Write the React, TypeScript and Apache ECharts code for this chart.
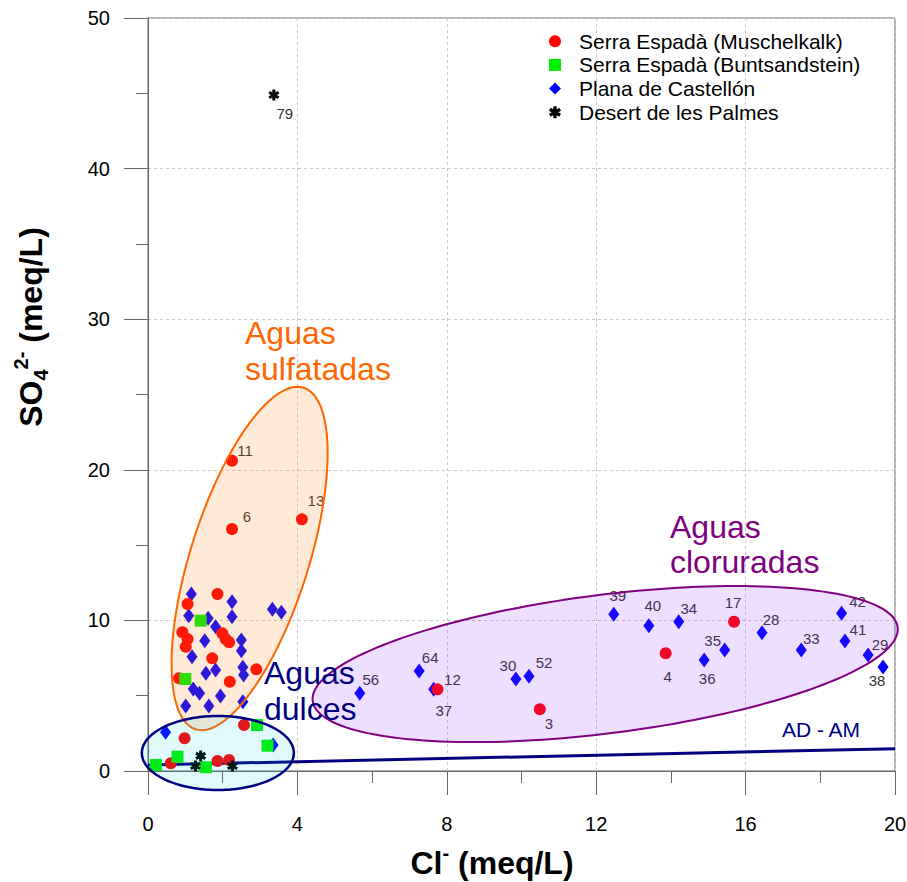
import React, { useEffect, useRef } from 'react';
import * as echarts from 'echarts';

const FONT = '"Liberation Sans", Arial, Helvetica, sans-serif';

// ---- axis ranges ----
const xRange = [0, 20];
const yRange = [0, 50];
const xInterval = 4;
const yInterval = 10;

// ---- data: [Cl (meq/L), SO4 (meq/L), sample label] ----
const muschelkalkPoints: [number, number, string][] = [
  [2.25, 20.6, '11'], [2.25, 16.07, '6'], [4.12, 16.71, '13'], [15.69, 9.91, '17'],
  [13.86, 7.82, '4'], [7.75, 5.42, '12'], [10.49, 4.1, '3'],
  [1.86, 11.75, ''], [1.06, 11.09, ''], [0.92, 9.21, ''], [1.06, 8.76, ''], [1.01, 8.25, ''],
  [1.99, 9.14, ''], [2.08, 8.76, ''], [2.17, 8.55, ''], [1.72, 7.48, ''], [2.9, 6.75, ''],
  [0.83, 6.16, ''], [2.19, 5.93, ''], [2.57, 3.05, ''], [0.98, 2.17, ''], [0.61, 0.51, ''],
  [1.86, 0.66, ''], [2.17, 0.73, ''],
];

const buntsandsteinPoints: [number, number, string][] = [
  [1.41, 9.98, ''], [1.0, 6.11, ''], [2.92, 3.05, ''], [3.2, 1.68, ''], [0.79, 0.95, ''],
  [0.21, 0.4, ''], [1.55, 0.25, ''],
];

const castellonPoints: [number, number, string][] = [
  [12.47, 10.41, '39'], [13.41, 9.65, '40'], [14.21, 9.91, '34'], [15.44, 8.03, '35'],
  [14.89, 7.37, '36'], [16.44, 9.18, '28'], [17.49, 8.03, '33'], [18.57, 10.47, '42'],
  [18.66, 8.63, '41'], [19.28, 7.7, '29'], [19.68, 6.91, '38'], [5.67, 5.16, '56'],
  [7.26, 6.64, '64'], [7.65, 5.42, '37'], [9.85, 6.11, '30'], [10.2, 6.29, '52'],
  [1.16, 11.75, ''], [2.25, 11.24, ''], [1.09, 10.31, ''], [1.61, 10.14, ''], [2.25, 10.25, ''],
  [3.33, 10.74, ''], [3.57, 10.54, ''], [1.81, 9.58, ''], [1.52, 8.65, ''], [2.5, 8.7, ''],
  [2.5, 7.99, ''], [1.18, 7.59, ''], [1.81, 6.71, ''], [1.55, 6.49, ''], [2.54, 6.89, ''],
  [2.56, 6.37, ''], [1.21, 5.44, ''], [1.38, 5.16, ''], [1.94, 4.98, ''], [1.01, 4.32, ''],
  [1.63, 4.32, ''], [2.54, 4.6, ''], [0.47, 2.57, ''], [3.35, 1.73, ''],
];

const palmesPoints: [number, number, string][] = [
  [3.37, 44.89, '79'], [1.41, 1.0, ''], [1.27, 0.33, ''], [2.26, 0.33, ''],
];

// a sample label printed without a visible marker
const labelOnlyPoints: [number, number, string][] = [[11.79, 6.86, '31']];

// AD - AM reference line
const adAmLine: [number, number][] = [[0, 0.4], [20, 1.48]];

// groups: centre and two conjugate semi-axes (data units)
const groupNames = ['Aguas\nsulfatadas', 'Aguas\ncloruradas', 'Aguas\ndulces'];
const groupCenters: [number, number][] = [[2.72, 14.11], [12.24, 7.1], [1.87, 1.195]];
const groupAxisU: [number, number][] = [[1.446, 11.335], [7.831, 2.45], [2.035, 0]];
const groupAxisV: [number, number][] = [[1.508, -1.182], [0.232, -4.565], [0, -2.457]];

const seriesNames = [
  'Serra Espadà (Muschelkalk)',
  'Serra Espadà (Buntsandstein)',
  'Plana de Castellón',
  'Desert de les Palmes',
];

// ---- styles ----
const labelOffsets: Record<string, [number, number]> = {
  '11': [13, -10], '6': [15, -12], '13': [14, -19], '17': [-1, -19], '4': [2, 23],
  '12': [15, -10], '3': [9, 14], '39': [4, -19], '40': [4, -20], '34': [10, -13],
  '35': [-12, -10], '36': [3, 18], '28': [9, -13], '33': [10, -12], '42': [16, -12],
  '41': [13, -12], '29': [12, -11], '38': [-6, 14], '56': [11, -14], '64': [11, -14],
  '37': [10, 21], '30': [-8, -13], '52': [15, -14], '79': [11, 19], '31': [0, 0],
};

const groupStyles = [
  { fill: 'rgba(255,140,40,0.18)', stroke: '#ff6600', lineWidth: 2 },
  { fill: 'rgba(150,50,255,0.16)', stroke: '#800080', lineWidth: 2 },
  { fill: 'rgba(0,215,230,0.12)', stroke: '#000080', lineWidth: 2.5 },
];
const groupTextStyles = [
  { x: 245, y: 351, color: '#ff6600', lineHeight: 36 },
  { x: 670, y: 544.5, color: '#800080', lineHeight: 35 },
  { x: 264, y: 691, color: '#000080', lineHeight: 36 },
];

const starPath = (() => {
  const L = 10;
  const w = 2.8;
  let d = '';
  for (const deg of [90, 30, -30]) {
    const a = (deg * Math.PI) / 180;
    const dx = Math.cos(a);
    const dy = Math.sin(a);
    const nx = -dy;
    const ny = dx;
    const pts = [
      [L * dx + w * nx, L * dy + w * ny],
      [L * dx - w * nx, L * dy - w * ny],
      [-L * dx - w * nx, -L * dy - w * ny],
      [-L * dx + w * nx, -L * dy + w * ny],
    ];
    d += 'M' + pts.map((p) => p[0].toFixed(2) + ' ' + p[1].toFixed(2)).join(' L') + ' Z ';
  }
  return 'path://' + d;
})();

function mkData(pts: [number, number, string][]) {
  return pts.map(([x, y, lab]) => ({
    value: [x, y],
    name: lab,
    label: lab
      ? {
          show: true,
          formatter: lab,
          position: 'inside',
          offset: labelOffsets[lab] || [10, -12],
          color: '#333',
          fontSize: 15,
          fontFamily: FONT,
        }
      : { show: false },
  }));
}

export default function App() {
  const ref = useRef<HTMLDivElement>(null);

  useEffect(() => {
    if (!ref.current) return;
    const chart = echarts.init(ref.current, null, { renderer: 'svg' });

    const axisColor = '#666';
    const option: any = {
      animation: false,
      backgroundColor: '#ffffff',
      textStyle: { fontFamily: FONT },
      grid: {
        left: 148,
        right: 12,
        top: 18,
        bottom: 111,
        show: true,
        borderColor: axisColor,
        borderWidth: 1,
        containLabel: false,
        outerBoundsMode: 'none',
      },
      xAxis: {
        type: 'value',
        min: xRange[0],
        max: xRange[1],
        interval: xInterval,
        axisLine: { show: true, onZero: false, lineStyle: { color: axisColor, width: 1 } },
        axisTick: { show: true, inside: false, length: 24, lineStyle: { color: axisColor } },
        minorTick: { show: true, splitNumber: 2, length: 12, lineStyle: { color: axisColor } },
        axisLabel: { fontSize: 20, color: '#000', margin: 43, fontFamily: FONT },
        splitLine: { show: true, lineStyle: { color: '#c8c8c8', type: [3, 3], width: 1 } },
      },
      yAxis: {
        type: 'value',
        min: yRange[0],
        max: yRange[1],
        interval: yInterval,
        axisLine: { show: true, onZero: false, lineStyle: { color: axisColor, width: 1 } },
        axisTick: { show: true, inside: false, length: 24, lineStyle: { color: axisColor } },
        minorTick: { show: true, splitNumber: 2, length: 12, lineStyle: { color: axisColor } },
        axisLabel: { fontSize: 20, color: '#000', margin: 38, fontFamily: FONT },
        splitLine: { show: true, lineStyle: { color: '#c8c8c8', type: [3, 3], width: 1 } },
      },
      legend: {
        orient: 'vertical',
        left: 544,
        top: 25.7,
        padding: 5,
        itemWidth: 12,
        itemHeight: 12,
        itemGap: 2.7,
        selectedMode: false,
        textStyle: { fontSize: 21, color: '#000', lineHeight: 21, fontFamily: FONT, padding: [0, 0, 0, 13] },
        data: [
          { name: seriesNames[0], icon: 'circle' },
          { name: seriesNames[1], icon: 'rect' },
          { name: seriesNames[2], icon: 'diamond' },
          { name: seriesNames[3], icon: starPath },
        ],
      },
      series: [
        {
          type: 'line',
          name: 'AD - AM',
          data: adAmLine,
          showSymbol: false,
          symbol: 'none',
          lineStyle: { color: '#000080', width: 3 },
          z: 2,
          silent: true,
        },
        {
          type: 'scatter',
          name: seriesNames[2],
          data: mkData(castellonPoints),
          symbol: 'diamond',
          symbolSize: [11, 15],
          itemStyle: { color: '#0000ff', opacity: 1 },
          z: 3,
        },
        {
          type: 'scatter',
          name: seriesNames[0],
          data: mkData(muschelkalkPoints),
          symbol: 'circle',
          symbolSize: 12,
          itemStyle: { color: '#ff0000', opacity: 1 },
          z: 3,
        },
        {
          type: 'scatter',
          name: seriesNames[1],
          data: mkData(buntsandsteinPoints),
          symbol: 'rect',
          symbolSize: 12,
          itemStyle: { color: '#00ee00', opacity: 1 },
          z: 3,
        },
        {
          type: 'scatter',
          name: seriesNames[3],
          data: mkData(palmesPoints),
          symbol: starPath,
          symbolSize: 11,
          itemStyle: { color: '#000', opacity: 1 },
          z: 3,
        },
        {
          type: 'scatter',
          name: 'labels',
          data: mkData(labelOnlyPoints),
          symbolSize: 0,
          itemStyle: { opacity: 0 },
          z: 3,
        },
        {
          type: 'custom',
          name: 'groups',
          clip: false,
          z: 4,
          silent: true,
          data: groupCenters.map((c, i) => [c[0], c[1], i]),
          encode: { x: 0, y: 1 },
          renderItem: (params: any, api: any) => {
            const i = params.dataIndex;
            const c = groupCenters[i];
            const u = groupAxisU[i];
            const v = groupAxisV[i];
            const pts: number[][] = [];
            const n = 180;
            for (let k = 0; k < n; k++) {
              const t = (2 * Math.PI * k) / n;
              pts.push(
                api.coord([
                  c[0] + u[0] * Math.cos(t) + v[0] * Math.sin(t),
                  c[1] + u[1] * Math.cos(t) + v[1] * Math.sin(t),
                ])
              );
            }
            const s = groupStyles[i];
            return {
              type: 'polygon',
              shape: { points: pts },
              style: { fill: s.fill, stroke: s.stroke, lineWidth: s.lineWidth },
            };
          },
        },
      ],
      graphic: [
        ...groupNames.map((g, i) => ({
          type: 'text',
          x: groupTextStyles[i].x,
          y: groupTextStyles[i].y,
          z: 10,
          style: {
            text: g,
            fill: groupTextStyles[i].color,
            fontSize: 32,
            fontFamily: FONT,
            lineHeight: groupTextStyles[i].lineHeight,
            align: 'left',
            verticalAlign: 'middle',
          },
        })),
        {
          type: 'text',
          x: 821,
          y: 729.5,
          z: 10,
          style: {
            text: 'AD - AM',
            fill: '#000080',
            fontSize: 21,
            fontFamily: FONT,
            align: 'center',
            verticalAlign: 'middle',
          },
        },
        {
          type: 'text',
          x: 492,
          y: 863,
          z: 10,
          style: {
            text: '{b|Cl}{sup|-}{b| (meq/L)}',
            align: 'center',
            verticalAlign: 'middle',
            rich: {
              b: { fontSize: 32, fontWeight: 'bold', fontFamily: FONT, fill: '#000', lineHeight: 40, verticalAlign: 'middle' },
              sup: { fontSize: 20, fontWeight: 'bold', fontFamily: FONT, fill: '#000', lineHeight: 20, verticalAlign: 'top' },
            },
          },
        },
        {
          type: 'text',
          x: 31,
          y: 327,
          rotation: Math.PI / 2,
          z: 10,
          style: {
            text: '{b|SO}{sub|4}{sup|2-}{b| (meq/L)}',
            align: 'center',
            verticalAlign: 'middle',
            rich: {
              b: { fontSize: 32, fontWeight: 'bold', fontFamily: FONT, fill: '#000', lineHeight: 40, verticalAlign: 'middle' },
              sub: { fontSize: 20, fontWeight: 'bold', fontFamily: FONT, fill: '#000', lineHeight: 20, verticalAlign: 'bottom' },
              sup: { fontSize: 20, fontWeight: 'bold', fontFamily: FONT, fill: '#000', lineHeight: 20, verticalAlign: 'top' },
            },
          },
        },
      ],
    };

    chart.setOption(option);
    return () => {
      chart.dispose();
    };
  }, []);

  return (
    <div
      ref={ref}
      style={{ position: 'absolute', left: 0, top: 0, width: 907, height: 882, background: '#fff' }}
    />
  );
}
